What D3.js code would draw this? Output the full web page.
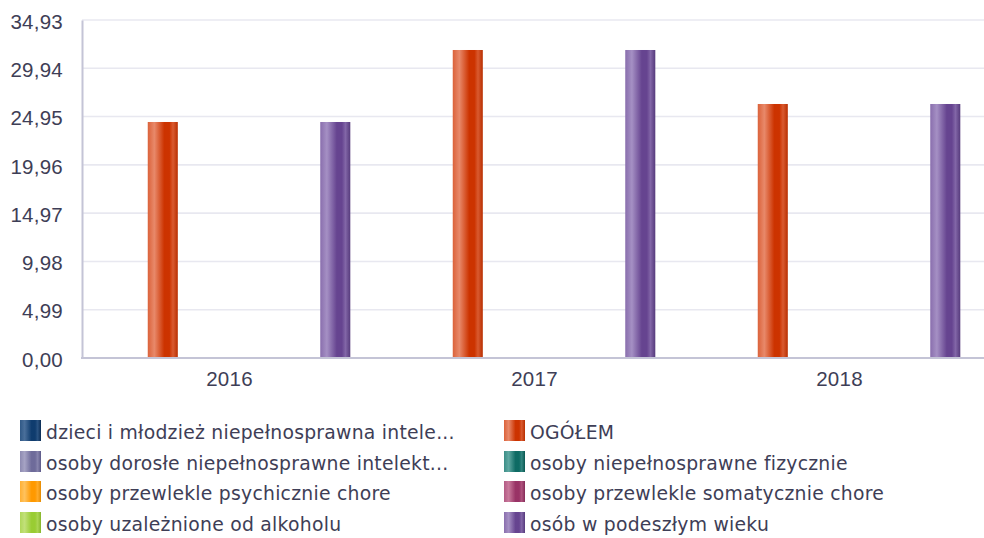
<!DOCTYPE html>
<html lang="pl">
<head>
<meta charset="utf-8">
<script src="https://cdn.jsdelivr.net/npm/d3@7"></script>
<style>
  html, body { margin: 0; padding: 0; background: #ffffff; }
  svg { display: block; font-family: "DejaVu Sans", sans-serif; }
</style>
</head>
<body>
<svg id="chart" width="984" height="538"></svg>
<script>
// Lata (kategorie osi X)
const years = ["2016", "2017", "2018"];

// Serie w kolejności legendy
const seriesNames = [
  "dzieci i młodzież niepełnosprawna intele...",
  "OGÓŁEM",
  "osoby dorosłe niepełnosprawne intelekt...",
  "osoby niepełnosprawne fizycznie",
  "osoby przewlekle psychicznie chore",
  "osoby przewlekle somatycznie chore",
  "osoby uzależnione od alkoholu",
  "osób w podeszłym wieku"
];

// Wartości dla kolejnych lat (0 = brak danych)
const valDzieci      = [0, 0, 0];
const valOgolem      = [24.39, 31.83, 26.25];
const valDorosle     = [0, 0, 0];
const valFizycznie   = [0, 0, 0];
const valPsychicznie = [0, 0, 0];
const valSomatycznie = [0, 0, 0];
const valAlkohol     = [0, 0, 0];
const valPodeszly    = [24.39, 31.83, 26.25];

// Podziałki osi Y
const yTicks = [0, 4.99, 9.98, 14.97, 19.96, 24.95, 29.94, 34.93];

// Kolory serii: [jasny, główny, ciemny]
const seriesColors = [
  ["#4a6f9a", "#0f3c6e", "#0a2c55"],
  ["#e8896a", "#cc3300", "#b82e00"],
  ["#a6a3c4", "#6e6b9a", "#5c5988"],
  ["#5fa8a2", "#0e6b64", "#0a5751"],
  ["#ffc25e", "#ff9900", "#e68a00"],
  ["#c97a9c", "#993366", "#852b58"],
  ["#c2e07a", "#99cc33", "#86b52a"],
  ["#a590c4", "#664490", "#563a7c"]
];

const allValues = [valDzieci, valOgolem, valDorosle, valFizycznie,
                   valPsychicznie, valSomatycznie, valAlkohol, valPodeszly];

const data = years.map((y, i) => ({
  year: y,
  values: seriesNames.map((s, k) => ({ key: k, name: s, value: allValues[k][i] }))
}));

const svg = d3.select("#chart");
const plot = { left: 82, right: 984, top: 20, bottom: 358 };
const textColor = "#3e3e56";
const axisFont = 20.5;
const legendFont = 18.8;
const spacing = 0.25;

const y = d3.scaleLinear().domain([0, 34.93]).range([plot.bottom, plot.top]);
const x0 = d3.scaleBand().domain(years).range([77, 992]);
const x1 = d3.scaleBand().domain(d3.range(seriesNames.length)).range([42, 272]);

const fmt = v => d3.format(".2f")(v).replace(".", ",");

// Gradienty walcowe dla słupków i legendy
const defs = svg.append("defs");
seriesColors.forEach((c, k) => {
  const g = defs.append("linearGradient")
    .attr("id", "grad" + k)
    .attr("x1", "0%").attr("x2", "100%").attr("y1", "0%").attr("y2", "0%");
  [[0, d3.interpolateRgb(c[0], c[1])(0.45)], [0.22, c[0]], [0.55, c[1]],
   [0.72, c[1]], [0.84, d3.interpolateRgb(c[0], c[1])(0.55)], [1, c[2]]]
    .forEach(([o, col]) => g.append("stop").attr("offset", o).attr("stop-color", col));
});

// Linie siatki
svg.append("g")
  .selectAll("line")
  .data(yTicks)
  .join("line")
  .attr("x1", plot.left).attr("x2", plot.right)
  .attr("y1", d => y(d)).attr("y2", d => y(d))
  .attr("stroke", "#e8e8f0").attr("stroke-width", 1.6);

// Słupki
const groups = svg.append("g")
  .selectAll("g")
  .data(data)
  .join("g")
  .attr("transform", d => `translate(${x0(d.year)},0)`);

groups.selectAll("rect")
  .data(d => d.values.filter(v => v.value > 0))
  .join("rect")
  .attr("x", d => x1(d.key))
  .attr("width", x1.bandwidth() + 1.3)
  .attr("y", d => y(d.value))
  .attr("height", d => y(0) - y(d.value))
  .attr("fill", d => `url(#grad${d.key})`);

// Oś Y
const yAxis = svg.append("g")
  .attr("transform", `translate(${plot.left},0)`)
  .call(d3.axisLeft(y).tickValues(yTicks).tickFormat(fmt).tickSize(0).tickPadding(19));
yAxis.select(".domain").attr("stroke", "#c4c4d6").attr("stroke-width", 2);
yAxis.selectAll("text")
  .attr("fill", textColor).attr("font-size", axisFont)
  .attr("letter-spacing", spacing).attr("dy", "0.4em");

// Oś X
const xAxis = svg.append("g")
  .attr("transform", `translate(0,${plot.bottom})`)
  .call(d3.axisBottom(x0).tickSize(0).tickPadding(13));
xAxis.select(".domain").remove();
xAxis.append("line")
  .attr("x1", plot.left - 1).attr("x2", plot.right)
  .attr("stroke", "#c4c4d6").attr("stroke-width", 2);
xAxis.selectAll("text")
  .attr("fill", textColor).attr("font-size", axisFont)
  .attr("letter-spacing", spacing);

// Legenda w dwóch kolumnach
const legend = svg.append("g");
const colX = [20, 504];
const rowY = [420, 451, 481, 512];
const items = legend.selectAll("g")
  .data(seriesNames.map((n, k) => ({ name: n, key: k })))
  .join("g")
  .attr("transform", d => `translate(${colX[d.key % 2]},${rowY[Math.floor(d.key / 2)]})`);
items.append("rect")
  .attr("width", 21).attr("height", 21)
  .attr("fill", d => `url(#grad${d.key})`);
items.append("text")
  .attr("x", 26).attr("y", 19)
  .attr("fill", textColor).attr("font-size", legendFont)
  .attr("letter-spacing", spacing)
  .text(d => d.name);
</script>
</body>
</html>
